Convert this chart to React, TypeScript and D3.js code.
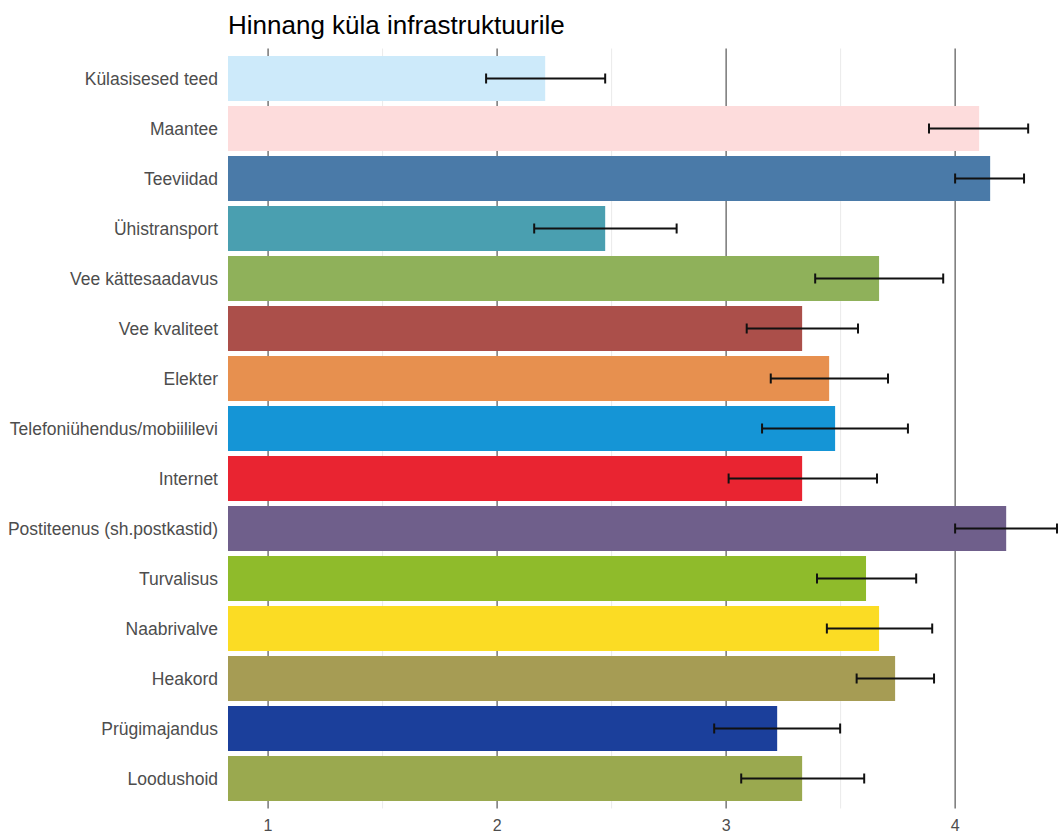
import React, { useEffect, useRef } from "react";
import * as d3 from "d3";

// categories top -> bottom
const categories = [
  "Külasisesed teed",
  "Maantee",
  "Teeviidad",
  "Ühistransport",
  "Vee kättesaadavus",
  "Vee kvaliteet",
  "Elekter",
  "Telefoniühendus/mobiililevi",
  "Internet",
  "Postiteenus (sh.postkastid)",
  "Turvalisus",
  "Naabrivalve",
  "Heakord",
  "Prügimajandus",
  "Loodushoid",
];
const means = [2.21, 4.105, 4.153, 2.472, 3.668, 3.332, 3.45, 3.476, 3.332, 4.223, 3.611, 3.668, 3.738, 3.223, 3.332];
const lower = [1.952, 3.886, 4.0, 2.162, 3.389, 3.09, 3.195, 3.157, 3.011, 4.0, 3.397, 3.44, 3.57, 2.948, 3.066];
const upper = [2.472, 4.319, 4.301, 2.784, 3.948, 3.576, 3.707, 3.794, 3.659, 4.445, 3.83, 3.9, 3.908, 3.498, 3.603];
const colors = [
  "#cdeafa", "#fddcdc", "#4a7aa8", "#4a9fb0", "#8fb15a", "#ab4f4a", "#e7904f", "#1595d6",
  "#e92431", "#6f5f8b", "#8fbb2b", "#fbdc24", "#a69c54", "#1b3f9b", "#9aa94f",
];
const xTicks = [1, 2, 3, 4];
const xMinor = [1.5, 2.5, 3.5];
const title = "Hinnang küla infrastruktuurile";

export default function App() {
  const ref = useRef<SVGSVGElement>(null);

  useEffect(() => {
    const svg = d3.select(ref.current);
    if (!svg.node()) return;
    svg.selectAll("*").remove();

    const left = 228, right = 1060, top = 48.5, bottom = 808.5;
    const x = d3.scaleLinear().domain([0.825, 4.458]).range([left, right]);
    const y = d3.scaleBand<string>().domain(categories).range([top, bottom])
      .paddingInner(0.1).paddingOuter(0.15);

    const font = "'Liberation Sans', Arial, sans-serif";

    // grid
    svg.append("g").selectAll("line").data(xMinor).join("line")
      .attr("x1", (d) => x(d)).attr("x2", (d) => x(d))
      .attr("y1", top).attr("y2", bottom)
      .attr("stroke", "#ebebeb").attr("stroke-width", 1);
    svg.append("g").selectAll("line").data(xTicks).join("line")
      .attr("x1", (d) => x(d)).attr("x2", (d) => x(d))
      .attr("y1", top).attr("y2", bottom)
      .attr("stroke", "#333").attr("stroke-width", 1);

    // bars
    svg.append("g").selectAll("rect").data(categories).join("rect")
      .attr("x", left)
      .attr("y", (d) => y(d)!)
      .attr("width", (d, i) => x(means[i]) - left)
      .attr("height", y.bandwidth())
      .attr("fill", (d, i) => colors[i]);

    // error bars
    const eb = svg.append("g").attr("stroke", "#111").attr("stroke-width", 2);
    categories.forEach((c, i) => {
      const cy = y(c)! + y.bandwidth() / 2;
      eb.append("line").attr("x1", x(lower[i])).attr("x2", x(upper[i])).attr("y1", cy).attr("y2", cy);
      eb.append("line").attr("x1", x(lower[i])).attr("x2", x(lower[i])).attr("y1", cy - 5).attr("y2", cy + 5);
      eb.append("line").attr("x1", x(upper[i])).attr("x2", x(upper[i])).attr("y1", cy - 5).attr("y2", cy + 5);
    });

    // y labels
    svg.append("g").selectAll("text").data(categories).join("text")
      .attr("x", 218)
      .attr("y", (d) => y(d)! + y.bandwidth() / 2)
      .attr("dy", "0.35em")
      .attr("text-anchor", "end")
      .attr("font-family", font)
      .attr("font-size", 17.5)
      .attr("fill", "#4d4d4d")
      .text((d) => d);

    // x labels
    svg.append("g").selectAll("text").data(xTicks).join("text")
      .attr("x", (d) => x(d))
      .attr("y", 831)
      .attr("text-anchor", "middle")
      .attr("font-family", font)
      .attr("font-size", 16)
      .attr("fill", "#4d4d4d")
      .text((d) => d3.format("d")(d));

    svg.append("text")
      .attr("x", 228).attr("y", 34)
      .attr("font-family", font)
      .attr("font-size", 26)
      .attr("fill", "#000")
      .text(title);
  }, []);

  return (
    <svg
      ref={ref}
      width={1060}
      height={833}
      style={{ position: "absolute", left: 0, top: 0, background: "#fff", display: "block" }}
    />
  );
}
